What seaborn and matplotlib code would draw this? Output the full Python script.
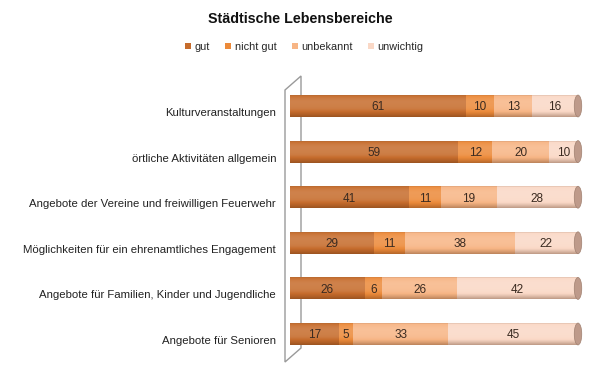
import numpy as np
import pandas as pd
import seaborn as sns
import matplotlib.pyplot as plt
import matplotlib.transforms as mtransforms
from matplotlib.patches import Ellipse, Polygon
from matplotlib.lines import Line2D

categories = [
    "Kulturveranstaltungen",
    "örtliche Aktivitäten allgemein",
    "Angebote der Vereine und freiwilligen Feuerwehr",
    "Möglichkeiten für ein ehrenamtliches Engagement",
    "Angebote für Familien, Kinder und Jugendliche",
    "Angebote für Senioren",
]
series = ["gut", "nicht gut", "unbekannt", "unwichtig"]
gut = [61, 59, 41, 29, 26, 17]
nicht_gut = [10, 12, 11, 11, 6, 5]
unbekannt = [13, 20, 19, 38, 26, 33]
unwichtig = [16, 10, 28, 22, 42, 45]
colors = ["#C66C2C", "#EC8A3A", "#F7B585", "#FAD8C6"]

sns.set_style("white")
plt.rcParams["font.family"] = ["Liberation Sans", "DejaVu Sans"]

df = pd.DataFrame({"Bereich": categories, "gut": gut, "nicht gut": nicht_gut,
                   "unbekannt": unbekannt, "unwichtig": unwichtig})
vals = df[series].to_numpy(dtype=float)
# 100% gestapelt, wie im Original
share = vals / vals.sum(axis=1, keepdims=True) * 100
cum = np.cumsum(share, axis=1)

fig = plt.figure(figsize=(6, 3.82), dpi=100)
ax = fig.add_axes([290 / 600, 25.2 / 382, 288 / 600, 273.6 / 382])
ax.patch.set_visible(False)

# von hinten nach vorne zeichnen
for j in range(len(series) - 1, -1, -1):
    sns.barplot(x=cum[:, j], y=categories, orient="h", color=colors[j],
                saturation=1, width=0.48, linewidth=0, ax=ax)

# Zylinder-Schattierung
n = 64
t = np.linspace(0, 1, n)
shade = np.zeros((n, 1, 4))
s = np.where(t < 0.3, 0.15 * np.sin(t / 0.3 * np.pi / 2), 0.15 * np.cos((t - 0.3) / 0.7 * np.pi / 2))
s = s - np.clip((t - 0.6) / 0.4, 0, 1) ** 1.5 * 0.35
s[:2] = -0.2
for k in range(n):
    if s[k] >= 0:
        shade[k, 0] = [1, 1, 1, s[k]]
    else:
        shade[k, 0] = [0.3, 0.15, 0.05, -s[k]]
for i in range(len(categories)):
    ax.imshow(shade, extent=(0, 100, i + 0.24, i - 0.24), aspect="auto",
              interpolation="bilinear", zorder=3)
    ax.add_patch(Ellipse((100, i), 2.6, 0.48, facecolor="#BE9A8A",
                         edgecolor="#A08070", linewidth=0.5, zorder=4, clip_on=False))

# Werte
for i in range(len(categories)):
    left = 0
    for j in range(len(series)):
        ax.text(left + share[i, j] / 2, i + 0.03, f"{int(vals[i, j])}", ha="center",
                va="center", fontsize=8.5, color="#3A2A20", zorder=5)
        left += share[i, j]

ax.set_xlim(0, 100)
ax.set_ylim(5.5, -0.5)
ax.set_xticks([])
ax.set_xlabel("")
ax.set_ylabel("")
ax.tick_params(axis="y", length=0, pad=10, labelsize=8.2, labelcolor="#222222")
# Beschriftungen sitzen etwas tiefer (3D-Boden)
offset = mtransforms.ScaledTranslation(0, -6 / 100, fig.dpi_scale_trans)
for lab in ax.get_yticklabels():
    lab.set_transform(lab.get_transform() + offset)
sns.despine(ax=ax, left=True, bottom=True)

# Seitenwand
wall = Polygon([(285 / 600, 1 - 90 / 382), (301 / 600, 1 - 76 / 382),
                (301 / 600, 1 - 348 / 382), (285 / 600, 1 - 362 / 382)],
               closed=True, fill=False, edgecolor="#9A9A9A", linewidth=1,
               transform=fig.transFigure, zorder=-1)
fig.add_artist(wall)

fig.text(0.5, 1 - 19 / 382, "Städtische Lebensbereiche", ha="center", va="center",
         fontsize=10.3, fontweight="bold", color="#111111")

handles = [Line2D([], [], marker="s", linestyle="", markersize=4.5,
                  markerfacecolor=c, markeredgewidth=0) for c in colors]
fig.legend(handles, series, loc="center", bbox_to_anchor=(0.505, 1 - 47 / 382),
           ncol=4, frameon=False, fontsize=7.8, handletextpad=0.1,
           columnspacing=1.2, handlelength=1.0)

fig.savefig("out.png", dpi=100)
